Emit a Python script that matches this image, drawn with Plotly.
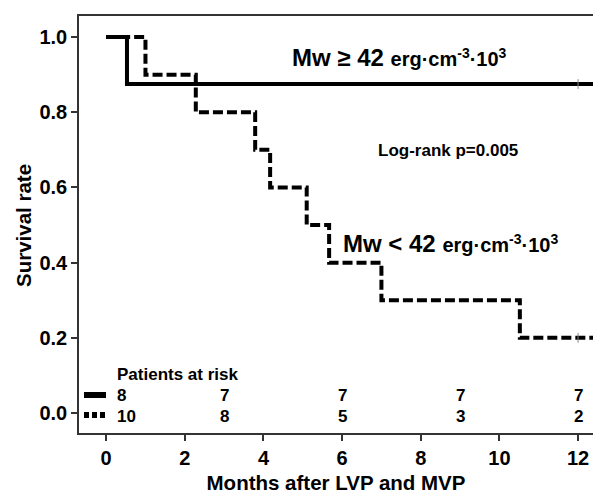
import plotly.graph_objects as go

# Kaplan-Meier step data
high_times = [0, 0.53, 12.4]
high_surv = [1.0, 0.875, 0.875]
low_times = [0, 1.0, 2.28, 3.79, 4.17, 5.10, 5.67, 7.0, 10.52, 12.4]
low_surv = [1.0, 0.9, 0.8, 0.7, 0.6, 0.5, 0.4, 0.3, 0.2, 0.2]
censor_times = [12, 12]
censor_surv = [0.875, 0.2]

risk_times = [0, 3, 6, 9, 12]
risk_high = [8, 7, 7, 7, 7]
risk_low = [10, 8, 5, 3, 2]

x_ticks = [0, 2, 4, 6, 8, 10, 12]
y_ticks = [0.0, 0.2, 0.4, 0.6, 0.8, 1.0]
y_tick_labels = ["0.0", "0.2", "0.4", "0.6", "0.8", "1.0"]

FONT = "Liberation Sans, Arial, sans-serif"
W, H = 593, 494
L, R, T, B = 79, 0, 16, 61
XR = [-0.69, 12.38]
YR = [-0.053, 1.056]


def px2x(px):
    return XR[0] + (px - L) / (W - L - R) * (XR[1] - XR[0])


def px2y(py):
    return YR[1] - (py - T) / (H - T - B) * (YR[1] - YR[0])


def px2paperx(px):
    return (px - L) / (W - L - R)


def px2papery(py):
    return 1 - (py - T) / (H - T - B)


fig = go.Figure()
fig.add_trace(go.Scatter(x=high_times, y=high_surv, mode="lines",
                         line=dict(shape="hv", color="black", width=4),
                         showlegend=False, hoverinfo="skip"))
fig.add_trace(go.Scatter(x=low_times, y=low_surv, mode="lines",
                         line=dict(shape="hv", color="black", width=4, dash="10px,4px"),
                         showlegend=False, hoverinfo="skip"))
fig.add_trace(go.Scatter(x=censor_times, y=censor_surv, mode="markers",
                         marker=dict(symbol="line-ns-open", size=7, color="#888",
                                     line=dict(width=1, color="#888")),
                         showlegend=False, hoverinfo="skip"))

unit = "<span style='font-size:20px'>erg·cm<sup>-3</sup>·10<sup>3</sup></span>"
ann = []
ann.append(dict(x=px2paperx(23), y=px2papery(226), xref="paper", yref="paper",
                xanchor="center", yanchor="middle", textangle=-90,
                text="<b>Survival rate</b>", showarrow=False,
                font=dict(family=FONT, size=20.5, color="black")))
ann.append(dict(x=px2x(290), y=px2y(57), xref="x", yref="y", xanchor="left", yanchor="middle",
                text="<b>Mw ≥ 42 " + unit + "</b>",
                showarrow=False, font=dict(family=FONT, size=24, color="black")))
ann.append(dict(x=px2x(376), y=px2y(150), xref="x", yref="y", xanchor="left", yanchor="middle",
                text="<b>Log-rank p=0.005</b>", showarrow=False,
                font=dict(family=FONT, size=17, color="black")))
ann.append(dict(x=px2x(341), y=px2y(243), xref="x", yref="y", xanchor="left", yanchor="middle",
                text="<b>Mw < 42 " + unit + "</b>",
                showarrow=False, font=dict(family=FONT, size=24, color="black")))
ann.append(dict(x=px2x(115), y=px2y(374), xref="x", yref="y", xanchor="left", yanchor="middle",
                text="<b>Patients at risk</b>", showarrow=False,
                font=dict(family=FONT, size=17, color="black")))
for i, t in enumerate(risk_times):
    anchor = "left" if i == 0 else "center"
    xpos = px2x(115) if i == 0 else t
    ann.append(dict(x=xpos, y=px2y(395), xref="x", yref="y", xanchor=anchor, yanchor="middle",
                    text="<b>%d</b>" % risk_high[i], showarrow=False,
                    font=dict(family=FONT, size=17, color="black")))
    ann.append(dict(x=xpos, y=px2y(416), xref="x", yref="y", xanchor=anchor, yanchor="middle",
                    text="<b>%d</b>" % risk_low[i], showarrow=False,
                    font=dict(family=FONT, size=17, color="black")))

shapes = [
    dict(type="line", xref="x", yref="y", x0=px2x(84), x1=px2x(106), y0=px2y(395), y1=px2y(395),
         line=dict(color="black", width=6)),
    dict(type="line", xref="x", yref="y", x0=px2x(84), x1=px2x(106), y0=px2y(415), y1=px2y(415),
         line=dict(color="black", width=6, dash="5px,3px")),
]

fig.update_layout(
    width=W, height=H,
    margin=dict(l=L, r=R, t=T, b=B, pad=0, autoexpand=False),
    paper_bgcolor="white", plot_bgcolor="white",
    annotations=ann, shapes=shapes,
    font=dict(family=FONT, color="black"),
    xaxis=dict(range=XR, tickvals=x_ticks, ticktext=["<b>%d</b>" % v for v in x_ticks],
               ticks="outside", ticklen=6, tickwidth=1.5, tickcolor="#333",
               automargin=False,
               showline=True, linecolor="#333", linewidth=1.5, mirror=True,
               showgrid=False, zeroline=False,
               tickfont=dict(family=FONT, size=20, color="black"),
               title=dict(text="<b>Months after LVP and MVP</b>", standoff=14,
                          font=dict(family=FONT, size=20.5, color="black"))),
    yaxis=dict(range=YR, tickvals=y_ticks, ticktext=["<b>%s</b>" % s for s in y_tick_labels],
               ticks="outside", ticklen=6, tickwidth=1.5, tickcolor="#333",
               automargin=False,
               showline=True, linecolor="#333", linewidth=1.5,
               showgrid=False, zeroline=False,
               tickfont=dict(family=FONT, size=20, color="black")),
)

fig.write_html("out.html", config={"displayModeBar": False},
               post_script="document.body.style.margin='0';document.body.style.overflow='hidden';")
